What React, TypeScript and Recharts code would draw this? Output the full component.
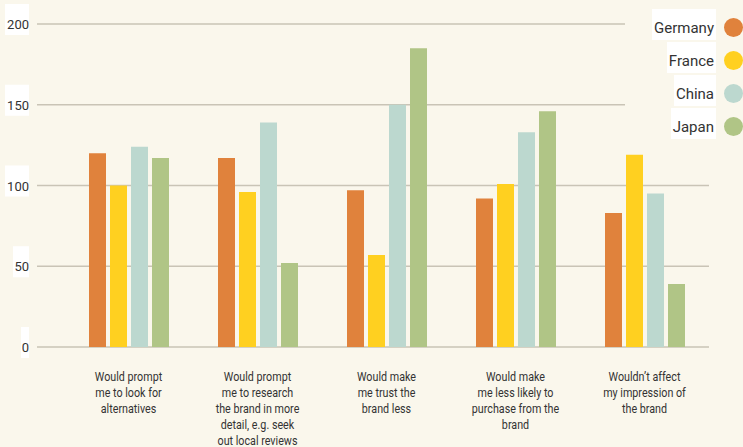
import { Bar, BarChart, CartesianGrid, Legend, XAxis, YAxis } from "recharts";

const categories = [
  "Would prompt me to look for alternatives",
  "Would prompt me to research the brand in more detail, e.g. seek out local reviews",
  "Would make me trust the brand less",
  "Would make me less likely to purchase from the brand",
  "Wouldn’t affect my impression of the brand",
];

// how the labels wrap in the original
const categoryLines = [
  ["Would prompt", "me to look for", "alternatives"],
  ["Would prompt", "me to research", "the brand in more", "detail, e.g. seek", "out local reviews"],
  ["Would make", "me trust the", "brand less"],
  ["Would make", "me less likely to", "purchase from the", "brand"],
  ["Wouldn’t affect", "my impression of", "the brand"],
];

const germany = [120, 117, 97, 92, 83];
const france = [100, 96, 57, 101, 119];
const china = [124, 139, 150, 133, 95];
const japan = [117, 52, 185, 146, 39];

const yTicks = [0, 50, 100, 150, 200];

const series = [
  { key: "Germany", values: germany, color: "#e0823c" },
  { key: "France", values: france, color: "#ffd020" },
  { key: "China", values: china, color: "#bcd8cf" },
  { key: "Japan", values: japan, color: "#b0c586" },
];

const data = categories.map((name, i) => {
  const row: Record<string, string | number> = { name };
  series.forEach((s) => (row[s.key] = s.values[i]));
  return row;
});

const BG = "#faf7ec";
const TEXT = "#333333";

function YTick(props: any) {
  const { x, y, payload } = props;
  const label = String(payload.value);
  const w = label.length * 8;
  return (
    <g>
      <rect x={x - w} y={y - 20} width={w} height={31} fill="#ffffff" />
      <text x={x} y={y} dy={5} textAnchor="end" fontSize={13} fill={TEXT} fontFamily="Roboto">
        {label}
      </text>
    </g>
  );
}

function XTick(props: any) {
  const { x, y, index } = props;
  const lines = categoryLines[index] || [];
  return (
    <g transform={`translate(${x},${y})`}>
      <text
        transform="scale(0.86,1)"
        textAnchor="middle"
        fontSize={12.5}
        fill={TEXT}
        fontFamily="Roboto"
      >
        {lines.map((l, i) => (
          <tspan key={i} x={0} y={26 + i * 16}>
            {l}
          </tspan>
        ))}
      </text>
    </g>
  );
}

function LegendBox() {
  return (
    <div style={{ width: 118, height: 150, background: BG, paddingTop: 9, boxSizing: "border-box" }}>
      {series.map((s) => (
        <div
          key={s.key}
          style={{ display: "flex", justifyContent: "flex-end", alignItems: "flex-start", height: 31, marginBottom: 2 }}
        >
          <span
            style={{
              display: "block",
              background: "#ffffff",
              height: 31,
              boxSizing: "border-box",
              lineHeight: "24px",
              padding: "7px 2px 0 2px",
              fontSize: 15,
              fontFamily: "Roboto",
              color: TEXT,
            }}
          >
            {s.key}
          </span>
          <span
            style={{
              display: "block",
              width: 19,
              height: 19,
              borderRadius: "50%",
              background: s.color,
              marginLeft: 8,
              marginTop: 9,
            }}
          />
        </div>
      ))}
    </div>
  );
}

export default function App() {
  return (
    <div style={{ position: "fixed", left: 0, top: 0, width: 743, height: 447, background: BG }}>
      <BarChart
        width={743}
        height={447}
        data={data}
        margin={{ top: 24, right: 34, bottom: 0, left: 0 }}
        barSize={17}
        barGap={4}
      >
        <CartesianGrid vertical={false} stroke="#c9c4b6" strokeWidth={1.5} />
        <XAxis
          dataKey="name"
          interval={0}
          height={100}
          axisLine={false}
          tickLine={false}
          padding={{ left: 27, right: 0 }}
          tick={<XTick />}
        />
        <YAxis
          width={37}
          domain={[0, 200]}
          ticks={yTicks}
          axisLine={false}
          tickLine={false}
          tickSize={0}
          tickMargin={8}
          tick={<YTick />}
        />
        <Legend
          layout="horizontal"
          verticalAlign="middle"
          align="center"
          wrapperStyle={{ top: 0, left: 625, width: 118 }}
          content={() => <LegendBox />}
        />
        {series.map((s) => (
          <Bar key={s.key} dataKey={s.key} fill={s.color} isAnimationActive={false} />
        ))}
      </BarChart>
    </div>
  );
}
